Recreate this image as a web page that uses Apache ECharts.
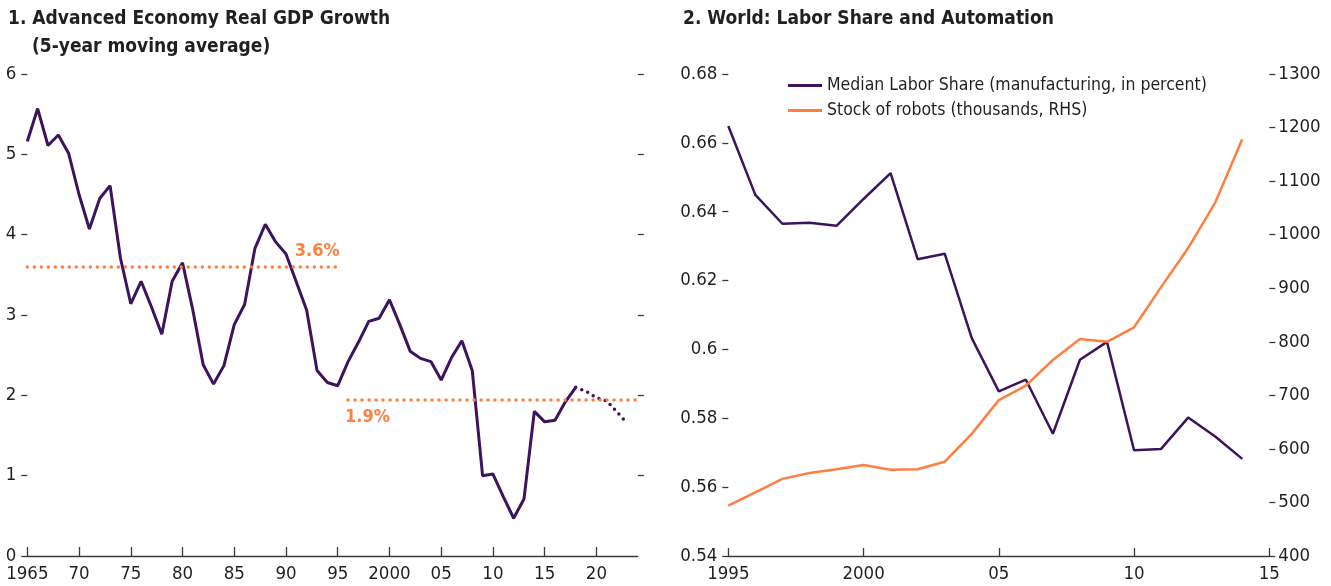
<!DOCTYPE html>
<html><head><meta charset="utf-8">
<script src="https://cdn.jsdelivr.net/npm/echarts@6/dist/echarts.min.js"></script>
<style>html,body{margin:0;padding:0;background:#fff}#c{width:1331px;height:586px}</style>
</head><body><div id="c"></div>
<script>
// ---------- data ----------
const gdpStartYear = 1965;
const gdpActual = [5.16,5.57,5.11,5.24,5.01,4.50,4.07,4.45,4.61,3.71,
  3.14,3.42,3.10,2.76,3.42,3.65,3.06,2.38,2.14,2.37,
  2.88,3.13,3.83,4.13,3.91,3.76,3.41,3.06,2.31,2.16,
  2.12,2.42,2.66,2.92,2.96,3.19,2.88,2.55,2.46,2.42,
  2.19,2.47,2.68,2.31,1.00,1.02,0.74,0.47,0.71,1.80,
  1.67,1.69,1.92,2.10];
const gdpProjYears = [2018,2019,2020,2021,2022,2023];
const gdpProj = [2.10,2.05,1.97,1.93,1.79,1.65];
const avgEarly = {value:3.6, from:1965, to:1995, label:'3.6%'};
const avgLate = {value:1.94, from:1996, to:2024, label:'1.9%'};
const leftTickYears = [1965,1970,1975,1980,1985,1990,1995,2000,2005,2010,2015,2020];
const leftTickLabels = ['1965','70','75','80','85','90','95','2000','05','10','15','20'];

const rightYears = [1995,1996,1997,1998,1999,2000,2001,2002,2003,2004,2005,2006,2007,2008,2009,2010,2011,2012,2013,2014];
const laborShare = [0.6649,0.6449,0.6365,0.6368,0.6359,0.6437,0.6512,0.6262,0.6278,0.6033,
  0.5878,0.5912,0.5755,0.5970,0.6022,0.5707,0.5711,0.5802,0.5747,0.5682];
const robots = [494,519,544,555,562,570,561,562,576,628,691,718,766,805,800,827,902,975,1060,1178];
const rightTickYears = [1995,2000,2005,2010,2015];
const rightTickLabels = ['1995','2000','05','10','15'];

const nameLabor = 'Median Labor Share (manufacturing, in percent)';
const nameRobots = 'Stock of robots (thousands, RHS)';

// ---------- style ----------
const FONT = "'DejaVu Sans Condensed','Liberation Sans Narrow',sans-serif";
const TXT = '#231f20';
const AX = '#3a3a3a';
const PURPLE = '#3c145e';
const ORANGE = '#ff7f41';
const TICKFS = 18.5;

const gdpData = gdpActual.map((v,i)=>[gdpStartYear+i, v]);
const projData = gdpProjYears.map((y,i)=>[y, gdpProj[i]]);

function lab(years, labels){ return v => { const i = years.indexOf(Math.round(v)); return i>=0 ? labels[i] : ''; }; }
const dotStyle = (w,g)=>({type:[0,g], cap:'round', width:w});
const titleStyle = {fontFamily:FONT, fontSize:19, fontWeight:'bold', color:TXT, lineHeight:22};

const chart = echarts.init(document.getElementById('c'), null, {renderer:'canvas'});
chart.setOption({
  animation:false,
  textStyle:{fontFamily:FONT, color:TXT},
  title:[
    {text:'1. Advanced Economy Real GDP Growth', left:8, top:8, padding:0, textStyle:titleStyle},
    {text:'(5-year moving average)', left:32, top:36, padding:0, textStyle:titleStyle},
    {text:'2. World: Labor Share and Automation', left:683, top:8, padding:0, textStyle:titleStyle}
  ],
  legend:{
    data:[nameLabor, nameRobots], orient:'vertical', left:788, top:75, padding:0,
    icon:'rect', itemWidth:34, itemHeight:3, itemGap:4,
    textStyle:{fontFamily:FONT, fontSize:17.5, lineHeight:21, color:TXT}
  },
  grid:[
    {left:27.3, top:74, width:610.5, height:482},
    {left:728.3, top:74, width:541, height:482}
  ],
  xAxis:[
    {type:'value', gridIndex:0, min:1965, max:2024,
     axisLine:{show:true, onZero:false, lineStyle:{color:AX, width:1.3}},
     axisTick:{show:true, inside:true, length:9, customValues:leftTickYears, lineStyle:{color:AX, width:1.3}},
     axisLabel:{customValues:leftTickYears, formatter:lab(leftTickYears,leftTickLabels), fontSize:TICKFS, color:TXT, margin:9},
     splitLine:{show:false}},
    {type:'value', gridIndex:1, min:1995, max:2015, interval:5,
     axisLine:{show:true, onZero:false, lineStyle:{color:AX, width:1.3}},
     axisTick:{show:true, inside:true, length:8, lineStyle:{color:AX, width:1.3}},
     axisLabel:{formatter:lab(rightTickYears,rightTickLabels), fontSize:TICKFS, color:TXT, margin:9, showMinLabel:true, showMaxLabel:true},
     splitLine:{show:false}}
  ],
  yAxis:[
    {type:'value', gridIndex:0, position:'left', min:0, max:6, interval:1,
     axisLine:{show:false}, axisTick:{show:true, length:6, lineStyle:{color:AX, width:1.3}},
     axisLabel:{fontSize:TICKFS, color:TXT, margin:11}, splitLine:{show:false}},
    {type:'value', gridIndex:0, position:'right', min:0, max:6, interval:1,
     axisLine:{show:false}, axisTick:{show:true, length:6, customValues:[1,2,3,4,5,6], lineStyle:{color:AX, width:1.3}},
     axisLabel:{show:false}, splitLine:{show:false}},
    {type:'value', gridIndex:1, position:'left', min:0.54, max:0.68, interval:0.02,
     axisLine:{show:false}, axisTick:{show:true, length:6, lineStyle:{color:AX, width:1.3}},
     axisLabel:{fontSize:TICKFS, color:TXT, margin:11, formatter:v=>String(+v.toFixed(2))}, splitLine:{show:false}},
    {type:'value', gridIndex:1, position:'right', min:400, max:1300, interval:100,
     axisLine:{show:false}, axisTick:{show:true, length:6, lineStyle:{color:AX, width:1.3}},
     axisLabel:{fontSize:TICKFS, color:TXT, margin:9, formatter:v=>String(Math.round(v))}, splitLine:{show:false}}
  ],
  series:[
    {type:'line', name:'GDP', xAxisIndex:0, yAxisIndex:0, data:gdpData, showSymbol:false,
     lineStyle:{color:PURPLE, width:3}, itemStyle:{color:PURPLE}, z:3,
     markLine:{silent:true, symbol:['none','none'], animation:false,
       data:[
         [{coord:[avgEarly.from, avgEarly.value], lineStyle:{color:ORANGE, ...dotStyle(3.5,7)},
           label:{show:true, position:'insideEndTop', formatter:avgEarly.label, color:ORANGE, fontFamily:FONT, fontWeight:'bold', fontSize:18, distance:[-2,6]}},
          {coord:[avgEarly.to, avgEarly.value]}],
         [{coord:[avgLate.from, avgLate.value], lineStyle:{color:ORANGE, ...dotStyle(3.5,7)},
           label:{show:true, position:'insideStartBottom', formatter:avgLate.label, color:ORANGE, fontFamily:FONT, fontWeight:'bold', fontSize:18, distance:[-3,8]}},
          {coord:[avgLate.to, avgLate.value]}]
       ]}},
    {type:'line', name:'GDP projection', xAxisIndex:0, yAxisIndex:0, data:projData, showSymbol:false,
     lineStyle:{color:PURPLE, ...dotStyle(3.5,6.5)}, z:3},
    {type:'line', name:nameLabor, xAxisIndex:1, yAxisIndex:2, data:rightYears.map((y,i)=>[y,laborShare[i]]), showSymbol:false,
     lineStyle:{color:PURPLE, width:2.5}, itemStyle:{color:PURPLE}},
    {type:'line', name:nameRobots, xAxisIndex:1, yAxisIndex:3, data:rightYears.map((y,i)=>[y,robots[i]]), showSymbol:false,
     lineStyle:{color:ORANGE, width:2.5}, itemStyle:{color:ORANGE}}
  ]
});
</script></body></html>
